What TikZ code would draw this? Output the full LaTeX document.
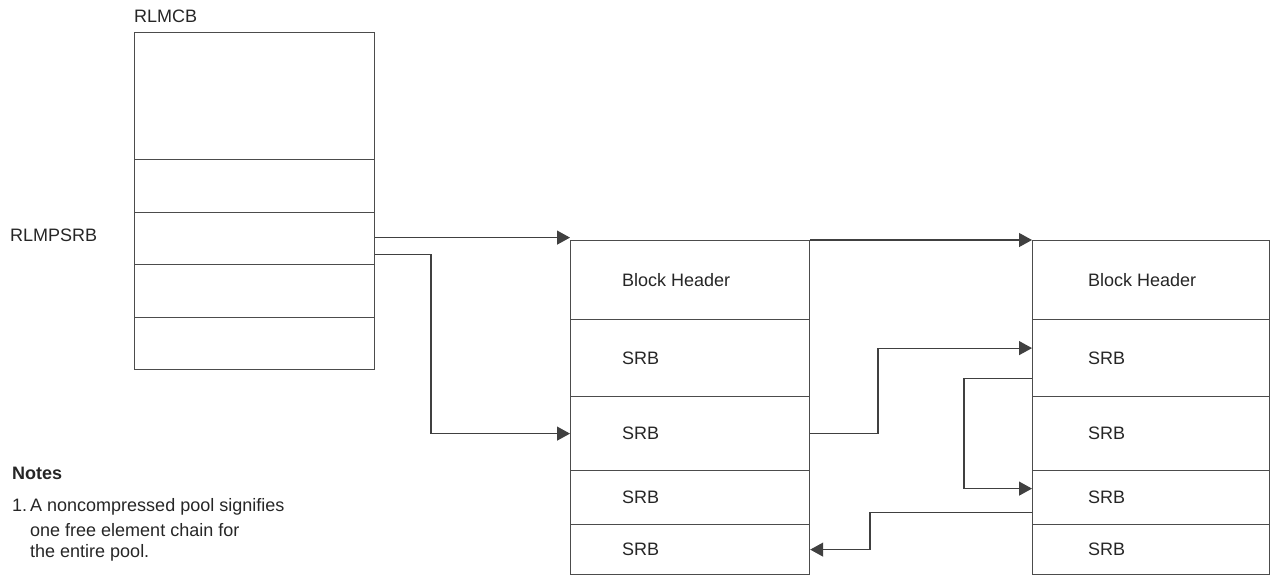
\documentclass[tikz,border=0pt]{standalone}
\usepackage{fontspec}
\setmainfont{Liberation Sans}
\usetikzlibrary{arrows.meta,calc}
\begin{document}
\begin{tikzpicture}[x=1pt,y=-1pt,
  every node/.style={font=\fontsize{18}{22}\selectfont, text=black!85},
  cell/.style={draw=black!70, line width=1.2pt, rectangle, inner sep=0pt, anchor=north west},
  lbl/.style={anchor=west, inner sep=0pt},
  arr/.style={draw=black!75, line width=1.2pt, -{Triangle[length=13pt,width=14pt]}}]
\useasboundingbox (0,0) rectangle (1275,576);
% RLMCB
\node[cell, minimum width=240pt, minimum height=127pt] (c1) at (134,32) {};
\node[cell, minimum width=240pt, minimum height=53pt] (c2) at (134,159) {};
\node[cell, minimum width=240pt, minimum height=52pt] (c3) at (134,212) {};
\node[cell, minimum width=240pt, minimum height=53pt] (c4) at (134,264) {};
\node[cell, minimum width=240pt, minimum height=52pt] (c5) at (134,317) {};
\node[lbl] (trlmcb) at (134,16) {RLMCB};
\node[lbl] (trlmpsrb) at (10,235) {RLMPSRB};
% Block 1
\node[cell, minimum width=239pt, minimum height=79pt] (a1) at (570,240) {};
\node[cell, minimum width=239pt, minimum height=77pt] (a2) at (570,319) {};
\node[cell, minimum width=239pt, minimum height=74pt] (a3) at (570,396) {};
\node[cell, minimum width=239pt, minimum height=54pt] (a4) at (570,470) {};
\node[cell, minimum width=239pt, minimum height=50pt] (a5) at (570,524) {};
\node[lbl] (ta1) at ([xshift=52pt]a1.west) {Block Header};
\node[lbl] (ta2) at ([xshift=52pt]a2.west) {SRB};
\node[lbl] (ta3) at ([xshift=52pt]a3.west) {SRB};
\node[lbl] (ta4) at ([xshift=52pt]a4.west) {SRB};
\node[lbl] (ta5) at ([xshift=52pt]a5.west) {SRB};
% Block 2
\node[cell, minimum width=237pt, minimum height=79pt] (b1) at (1032,240) {};
\node[cell, minimum width=237pt, minimum height=77pt] (b2) at (1032,319) {};
\node[cell, minimum width=237pt, minimum height=74pt] (b3) at (1032,396) {};
\node[cell, minimum width=237pt, minimum height=54pt] (b4) at (1032,470) {};
\node[cell, minimum width=237pt, minimum height=50pt] (b5) at (1032,524) {};
\node[lbl] (tb1) at ([xshift=56pt]b1.west) {Block Header};
\node[lbl] (tb2) at ([xshift=56pt]b2.west) {SRB};
\node[lbl] (tb3) at ([xshift=56pt]b3.west) {SRB};
\node[lbl] (tb4) at ([xshift=56pt]b4.west) {SRB};
\node[lbl] (tb5) at ([xshift=56pt]b5.west) {SRB};
% Notes
\node[lbl, font=\fontsize{18}{22}\selectfont\bfseries] (notes) at (12,473) {Notes};
\node[lbl] (n1) at (12,507) {1.\,A noncompressed pool signifies};
\node[lbl] (n2) at (30,530) {one free element chain for};
\node[lbl] (n3) at (30,553) {the entire pool.};
% bend coordinates
\coordinate (s1) at ([yshift=1pt]c3.east);
\coordinate (k1) at (431,300);
\coordinate (k2) at (878,400);
\coordinate (k3) at (964,430);
\coordinate (k4) at (870,530);
% connectors
\draw[arr] (s1) -- (a1.north west |- s1);
\draw[arr] ([yshift=-16pt]c3.east) -| (k1) |- (a3.west);
\draw[arr] (a1.north east) -- (b1.north west);
\draw[arr] (a3.east) -| (k2) |- ([yshift=10pt]b2.west);
\draw[arr] ([yshift=-20pt]b2.west) -| (k3) |- ([yshift=9pt]b4.west);
\draw[arr] ([yshift=-15pt]b4.west) -| (k4) |- (a5.east);
\end{tikzpicture}
\end{document}
